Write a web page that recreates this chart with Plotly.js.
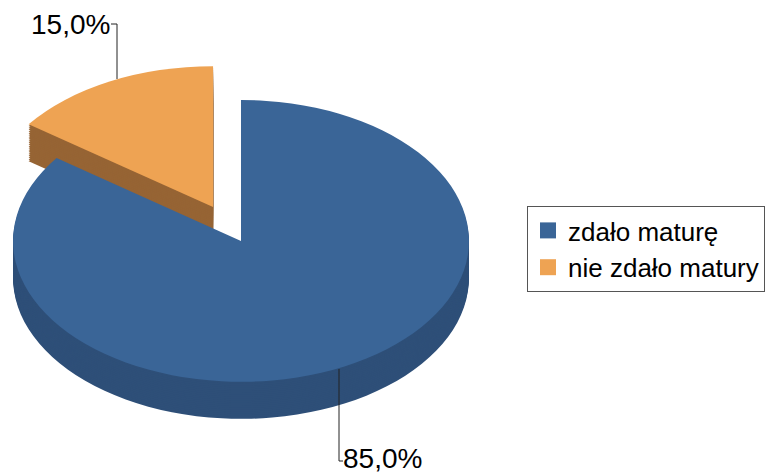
<!DOCTYPE html>
<html><head><meta charset="utf-8">
<script src="https://cdn.plot.ly/plotly-3.0.1.min.js"></script>
<style>
html,body{margin:0;padding:0;background:#fff;width:777px;height:476px;overflow:hidden;}
#wrap{position:relative;width:777px;height:476px;overflow:hidden;background:#fff;}
#pie{position:absolute;left:-100px;top:62px;width:977px;height:640px;transform:scaleY(0.618);transform-origin:0 0;}
#over{position:absolute;left:0;top:0;width:777px;height:476px;}
</style></head><body>
<div id="wrap"><div id="pie"></div><div id="over"></div></div>
<script>
// ---- data ----
const categories = ['zdało maturę', 'nie zdało matury'];
const shares = [85.0, 15.0];
const pulls = [0, 0.27];
const topColors = ['#3a6597', '#eea353'];
const sideColors = ['#2e4f78', '#966434'];

// ---- geometry of the tilted pie ----
const A_W = 977, A_H = 640;
const BOX = 579, CX = 341;
const DEPTH = 60, STEP = 3;
const domX = [(CX - BOX / 2) / A_W, (CX + BOX / 2) / A_W];

function pieLayer(offset, colors) {
  return {
    type: 'pie', values: shares, labels: categories, sort: false,
    direction: 'clockwise', rotation: 0, pull: pulls,
    marker: {colors: colors, line: {width: 0}},
    textinfo: 'none', hoverinfo: 'skip', showlegend: false,
    domain: {x: domX, y: [1 - (offset + BOX) / A_H, 1 - offset / A_H]}
  };
}
const pieTraces = [];
for (let d = DEPTH; d >= STEP; d -= STEP) pieTraces.push(pieLayer(d, sideColors));
pieTraces.push(pieLayer(0, topColors));

Plotly.newPlot('pie', pieTraces, {
  width: A_W, height: A_H, margin: {l: 0, r: 0, t: 0, b: 0},
  paper_bgcolor: 'rgba(0,0,0,0)', plot_bgcolor: 'rgba(0,0,0,0)', showlegend: false
}, {staticPlot: true, displayModeBar: false});

// ---- overlay: legend, labels, leader lines ----
const W = 777, H = 476;
const px = x => x / W, py = y => 1 - y / H;
const total = shares.reduce((a, b) => a + b, 0);
const pctText = shares.map(v => (v / total * 100).toFixed(1).replace('.', ',') + '%');

const legendTraces = categories.map((c, i) => ({
  type: 'scatter', mode: 'markers', x: [null], y: [null], name: c,
  marker: {symbol: 'square', size: 16, color: topColors[i]}, hoverinfo: 'skip'
}));

const font = {family: 'Liberation Sans, Arial, sans-serif', color: '#000'};
Plotly.newPlot('over', legendTraces, {
  width: W, height: H, margin: {l: 0, r: 0, t: 0, b: 0},
  paper_bgcolor: 'rgba(0,0,0,0)', plot_bgcolor: 'rgba(0,0,0,0)',
  xaxis: {visible: false, range: [0, 1]}, yaxis: {visible: false, range: [0, 1]},
  showlegend: true,
  legend: {x: px(527), y: py(206), xanchor: 'left', yanchor: 'top',
    bgcolor: '#fff', bordercolor: '#555', borderwidth: 1,
    font: Object.assign({size: 26}, font)},
  annotations: [
    {text: pctText[1], xref: 'paper', yref: 'paper', x: px(112), y: py(24),
     xanchor: 'right', yanchor: 'middle', showarrow: false, font: Object.assign({size: 28}, font)},
    {text: pctText[0], xref: 'paper', yref: 'paper', x: px(341), y: 0,
     xanchor: 'left', yanchor: 'bottom', showarrow: false, font: Object.assign({size: 28}, font)}
  ],
  shapes: [
    {type: 'path', xref: 'paper', yref: 'paper', line: {color: '#222', width: 1},
     path: `M${px(111)},${py(24)} H${px(117)} V${py(79)}`},
    {type: 'path', xref: 'paper', yref: 'paper', line: {color: '#222', width: 1},
     path: `M${px(339)},${py(369)} V${py(461)} H${px(343)}`}
  ]
}, {staticPlot: true, displayModeBar: false});
</script>
</body></html>
